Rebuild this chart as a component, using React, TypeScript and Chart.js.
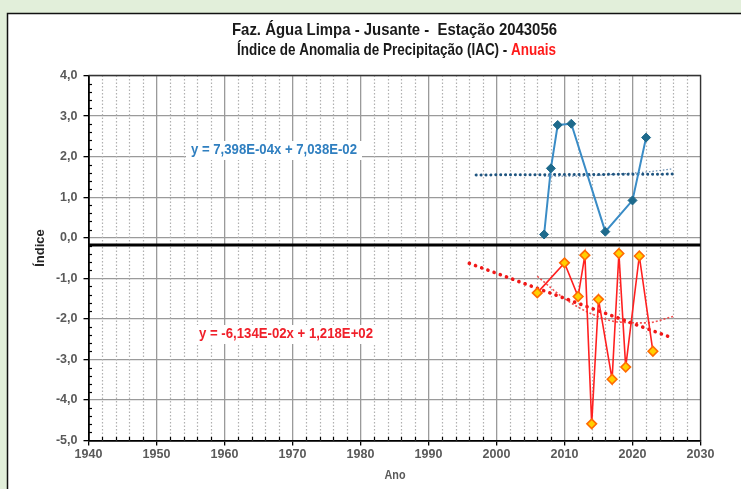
import React, { useEffect, useRef } from "react";
import { Chart, registerables } from "chart.js";

Chart.register(...registerables);

// ---------- data ----------
const yearsPositive = [2007, 2008, 2009, 2011, 2016, 2020, 2022];
const iacPositive = [0.08, 1.71, 2.78, 2.81, 0.15, 0.92, 2.47];

const yearsNegative = [2006, 2010, 2012, 2013, 2014, 2015, 2017, 2018, 2019, 2021, 2023];
const iacNegative = [-1.36, -0.62, -1.45, -0.43, -4.59, -1.52, -3.49, -0.39, -3.19, -0.45, -2.8];

const trendPosYears = [1997, 2026];
const trendPosValues = [1.548, 1.569];
const trendNegYears = [1996, 2026];
const trendNegValues = [-0.63, -2.48];

const polyPosYears = [2007, 2012, 2017, 2022, 2026];
const polyPosValues = [1.52, 1.52, 1.56, 1.62, 1.7];
const polyNegYears = [2006, 2010, 2014, 2018, 2022, 2026];
const polyNegValues = [-0.95, -1.5, -1.88, -2.08, -2.1, -1.94];

const refYears = [1940, 2030];
const refValues = [-0.18, -0.18];

const xMin = 1940;
const xMax = 2030;
const yMin = -5;
const yMax = 4;

const titleLine1 = "Faz. Água Limpa - Jusante -  Estação 2043056";
const titleLine2a = "Índice de Anomalia de Precipitação (IAC) - ";
const titleLine2b = "Anuais";
const eqPositive = "y = 7,398E-04x + 7,038E-02";
const eqNegative = "y = -6,134E-02x + 1,218E+02";
const yTitle = "Índice";
const xTitle = "Ano";

const SANS = '"Liberation Sans", Arial, sans-serif';

const pts = (xs: number[], ys: number[]) => xs.map((x, i) => ({ x, y: ys[i] }));

function fitText(
  ctx: CanvasRenderingContext2D,
  text: string,
  cx: number,
  cy: number,
  w: number,
  font: string,
  color: string
) {
  ctx.save();
  ctx.font = font;
  ctx.fillStyle = color;
  ctx.textAlign = "center";
  ctx.textBaseline = "middle";
  const m = ctx.measureText(text).width;
  ctx.translate(cx, cy);
  ctx.scale(w / m, 1);
  ctx.fillText(text, 0, 0);
  ctx.restore();
}

const decor = {
  id: "decor",
  beforeDraw(chart: any) {
    const ctx = chart.ctx as CanvasRenderingContext2D;
    const W = chart.width;
    const H = chart.height;
    ctx.save();
    ctx.fillStyle = "#e2efda";
    ctx.fillRect(0, 0, W, H);
    ctx.fillStyle = "#ffffff";
    ctx.fillRect(7, 13, W - 7, H - 13);
    ctx.strokeStyle = "#111";
    ctx.lineWidth = 1.5;
    ctx.beginPath();
    ctx.moveTo(7.5, H);
    ctx.lineTo(7.5, 13.5);
    ctx.lineTo(W, 13.5);
    ctx.stroke();
    ctx.restore();
  },
  beforeDatasetsDraw(chart: any) {
    const ctx = chart.ctx as CanvasRenderingContext2D;
    const xs = chart.scales.x;
    const ys = chart.scales.y;
    const a = chart.chartArea;
    ctx.save();
    // minor dotted vertical grid lines every 2 years
    ctx.strokeStyle = "#b0b0b0";
    ctx.lineWidth = 1.2;
    ctx.setLineDash([1.5, 2]);
    for (let yr = xMin + 2; yr < xMax; yr += 2) {
      if (yr % 10 === 0) continue;
      const px = Math.round(xs.getPixelForValue(yr)) + 0.5;
      ctx.beginPath();
      ctx.moveTo(px, a.top);
      ctx.lineTo(px, a.bottom);
      ctx.stroke();
    }
    ctx.setLineDash([]);
    // frame top / right
    ctx.strokeStyle = "#333";
    ctx.lineWidth = 1.3;
    ctx.beginPath();
    ctx.moveTo(a.left, a.top);
    ctx.lineTo(a.right, a.top);
    ctx.lineTo(a.right, a.bottom);
    ctx.stroke();
    // minor ticks
    ctx.strokeStyle = "#000";
    ctx.lineWidth = 1.2;
    for (let v = yMin; v <= yMax + 1e-9; v += 0.2) {
      const r = Math.round(v * 10) / 10;
      if (Math.abs(r - Math.round(r)) < 1e-6) continue;
      const py = Math.round(ys.getPixelForValue(r)) + 0.5;
      ctx.beginPath();
      ctx.moveTo(a.left, py);
      ctx.lineTo(a.left + 3.5, py);
      ctx.stroke();
    }
    for (let yr = xMin + 2; yr < xMax; yr += 2) {
      if (yr % 10 === 0) continue;
      const px = Math.round(xs.getPixelForValue(yr)) + 0.5;
      ctx.beginPath();
      ctx.moveTo(px, a.bottom);
      ctx.lineTo(px, a.bottom - 3.5);
      ctx.stroke();
    }
    // equation boxes
    ctx.fillStyle = "#ffffff";
    ctx.fillRect(186, 141, 176, 19);
    ctx.fillRect(194, 325, 184, 19);
    ctx.restore();
  },
  afterDraw(chart: any) {
    const ctx = chart.ctx as CanvasRenderingContext2D;
    // titles
    fitText(ctx, titleLine1, 394.5, 30, 325, `bold 17px ${SANS}`, "#1a1a1a");
    ctx.save();
    ctx.font = `bold 17px ${SANS}`;
    const wa = ctx.measureText(titleLine2a).width;
    const wb = ctx.measureText(titleLine2b).width;
    const target = 319;
    const s = target / (wa + wb);
    ctx.translate(396.5 - target / 2, 50);
    ctx.scale(s, 1);
    ctx.textAlign = "left";
    ctx.textBaseline = "middle";
    ctx.fillStyle = "#1a1a1a";
    ctx.fillText(titleLine2a, 0, 0);
    ctx.fillStyle = "#ff1a1a";
    ctx.fillText(titleLine2b, wa, 0);
    ctx.restore();
    // equations
    fitText(ctx, eqPositive, 274, 150.5, 166, `bold 14px ${SANS}`, "#2f7fc0");
    fitText(ctx, eqNegative, 286, 334.5, 174, `bold 14px ${SANS}`, "#f0202a");
    // axis titles
    ctx.save();
    ctx.font = `bold 13px ${SANS}`;
    ctx.fillStyle = "#262626";
    ctx.textAlign = "center";
    ctx.textBaseline = "middle";
    ctx.translate(40, 248);
    ctx.rotate(-Math.PI / 2);
    ctx.fillText(yTitle, 0, 0);
    ctx.restore();
    fitText(ctx, xTitle, 395, 476, 21, `bold 12px ${SANS}`, "#595959");
  },
};

export default function App() {
  const ref = useRef<HTMLCanvasElement>(null);
  useEffect(() => {
    const chart = new Chart(ref.current as HTMLCanvasElement, {
      type: "line",
      data: {
        datasets: [
          {
            data: pts(yearsPositive, iacPositive),
            borderColor: "#3a8cc6",
            borderWidth: 2,
            backgroundColor: "#1e6a8c",
            pointBackgroundColor: "#1e6a8c",
            pointBorderColor: "#1e6a8c",
            pointStyle: "rectRot",
            pointRadius: 4.5,
            pointBorderWidth: 1,
            tension: 0,
          },
          {
            data: pts(yearsNegative, iacNegative),
            borderColor: "#ff2020",
            borderWidth: 1.6,
            pointBackgroundColor: "#ffd000",
            pointBorderColor: "#ff6a00",
            pointStyle: "rectRot",
            pointRadius: 4.8,
            pointBorderWidth: 1.6,
            tension: 0,
          },
          {
            data: pts(trendPosYears, trendPosValues),
            borderColor: "#1f5580",
            borderWidth: 3,
            borderDash: [0.1, 4.8],
            borderCapStyle: "round",
            pointRadius: 0,
          },
          {
            data: pts(trendNegYears, trendNegValues),
            borderColor: "#f01818",
            borderWidth: 3.6,
            borderDash: [0.1, 6.5],
            borderCapStyle: "round",
            pointRadius: 0,
          },
          {
            data: pts(polyPosYears, polyPosValues),
            borderColor: "rgba(40,90,140,0.7)",
            borderWidth: 1.2,
            borderDash: [1.5, 2],
            pointRadius: 0,
            cubicInterpolationMode: "monotone",
          },
          {
            data: pts(polyNegYears, polyNegValues),
            borderColor: "rgba(240,50,50,0.85)",
            borderWidth: 1.6,
            borderDash: [2, 2],
            pointRadius: 0,
            cubicInterpolationMode: "monotone",
          },
          {
            data: pts(refYears, refValues),
            borderColor: "#000000",
            borderWidth: 3,
            pointRadius: 0,
          },
        ],
      },
      options: {
        responsive: false,
        animation: false,
        devicePixelRatio: 1,
        layout: { padding: { left: 10, right: 40.5, top: 75.5, bottom: 0 } },
        plugins: {
          legend: { display: false },
          tooltip: { enabled: false },
          title: { display: false },
        },
        scales: {
          x: {
            type: "linear",
            min: xMin,
            max: xMax,
            ticks: {
              stepSize: 10,
              autoSkip: false,
              maxRotation: 0,
              padding: 2,
              color: "#595959",
              font: { family: SANS, size: 12.5, weight: "bold" },
              callback: (v: any) => String(v),
            },
            grid: {
              color: "#9a9a9a",
              lineWidth: 1.3,
              tickColor: "#000",
              tickLength: 5,
              tickWidth: 1.3,
            },
            border: { color: "#000", width: 1.8 },
            afterFit: (s: any) => {
              s.height = 48.5;
            },
          },
          y: {
            min: yMin,
            max: yMax,
            ticks: {
              stepSize: 1,
              padding: 6,
              color: "#595959",
              font: { family: SANS, size: 12.5, weight: "bold" },
              callback: (v: any) => Number(v).toFixed(1).replace(".", ","),
            },
            grid: {
              color: "#9a9a9a",
              lineWidth: 1.3,
              tickColor: "#000",
              tickLength: 5,
              tickWidth: 1.3,
            },
            border: { color: "#000", width: 1.8 },
            afterFit: (s: any) => {
              s.width = 78.5;
            },
          },
        },
      },
      plugins: [decor],
    } as any);
    return () => chart.destroy();
  }, []);
  return (
    <div style={{ position: "fixed", left: 0, top: 0, width: 741, height: 489 }}>
      <canvas ref={ref} width={741} height={489} style={{ display: "block", width: 741, height: 489 }} />
    </div>
  );
}
